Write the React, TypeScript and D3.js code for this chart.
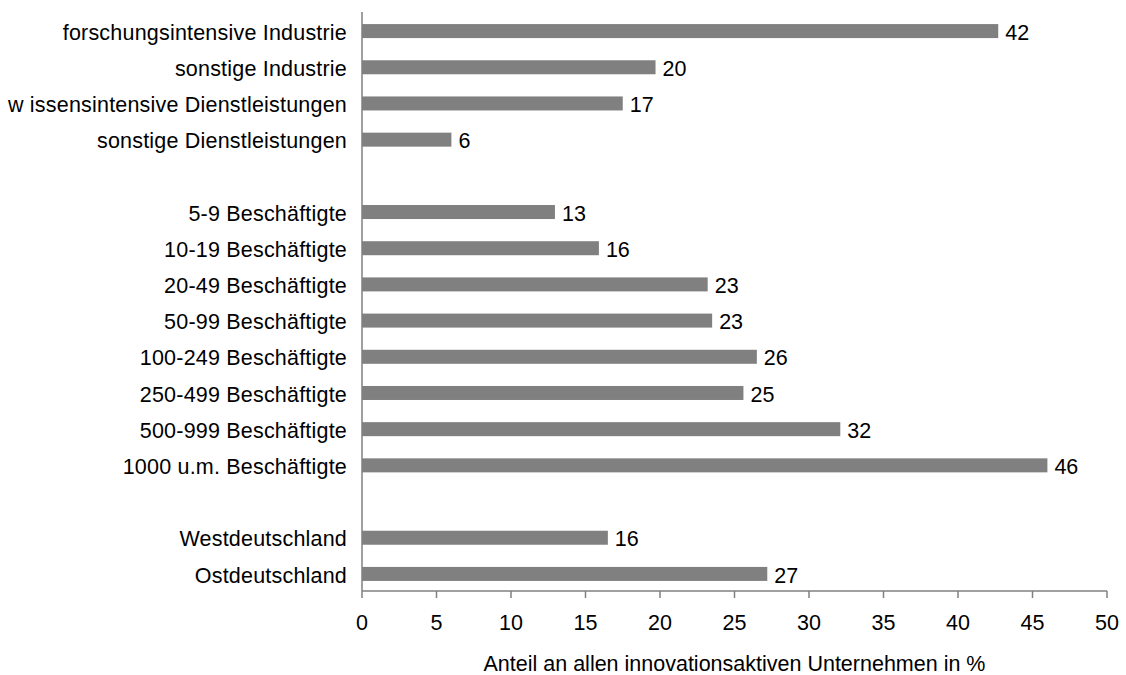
import React from "react";
import * as d3 from "d3";

const categories: string[] = [
  "forschungsintensive Industrie",
  "sonstige Industrie",
  "w issensintensive Dienstleistungen",
  "sonstige Dienstleistungen",
  "",
  "5-9 Beschäftigte",
  "10-19 Beschäftigte",
  "20-49 Beschäftigte",
  "50-99 Beschäftigte",
  "100-249 Beschäftigte",
  "250-499 Beschäftigte",
  "500-999 Beschäftigte",
  "1000 u.m. Beschäftigte",
  " ",
  "Westdeutschland",
  "Ostdeutschland",
];
const values: (number | null)[] = [42.7, 19.7, 17.5, 6.0, null, 12.95, 15.9, 23.2, 23.5, 26.5, 25.6, 32.1, 46.0, null, 16.5, 27.2];
const valueLabels: string[] = ["42", "20", "17", "6", "", "13", "16", "23", "23", "26", "25", "32", "46", "", "16", "27"];
const xTicks: number[] = [0, 5, 10, 15, 20, 25, 30, 35, 40, 45, 50];
const xTitle = "Anteil an allen innovationsaktiven Unternehmen in %";

const W = 1126, H = 675;
const left = 362, right = 1107, top = 12, bottom = 591;
const FONT = "Liberation Sans, Arial, sans-serif";
const FS = 21.5;

export default function App() {
  const x = d3.scaleLinear().domain([0, 50]).range([left, right]);
  const y = d3.scaleBand<number>().domain(categories.map((_, i) => i)).range([top, bottom]).paddingInner(0.613).paddingOuter(0.306);
  const step = y.step();
  const rowC = (i: number) => (y(i) as number) + y.bandwidth() / 2 + 1;
  const bh = y.bandwidth();
  return (
    <svg width={W} height={H} style={{ position: "absolute", left: 0, top: 0, background: "#fff" }} fontFamily={FONT}>
      {categories.map((c, i) => (
        <text key={"c" + i} x={left - 15} y={rowC(i)} dy="0.4em" textAnchor="end" fontSize={FS} letterSpacing={0.2} fill="#000">{c.trim()}</text>
      ))}
      {values.map((v, i) => v == null ? null : (
        <g key={"b" + i}>
          <rect x={x(0)} y={rowC(i) - bh / 2} width={x(v) - x(0)} height={bh} fill="#808080" />
          <text x={x(v) + 7} y={rowC(i)} dy="0.4em" fontSize={FS} fill="#000">{valueLabels[i]}</text>
        </g>
      ))}
      <line x1={left} x2={left} y1={top} y2={bottom} stroke="#808080" strokeWidth={1.5} />
      <line x1={left} x2={right} y1={bottom} y2={bottom} stroke="#808080" strokeWidth={1.5} />
      {xTicks.map((t) => (
        <g key={"t" + t}>
          <line x1={x(t)} x2={x(t)} y1={bottom} y2={bottom + 7} stroke="#808080" strokeWidth={1.5} />
          <text x={x(t)} y={630} textAnchor="middle" fontSize={FS} fill="#000">{t}</text>
        </g>
      ))}
      <text x={(x(0) + x(50)) / 2} y={671} textAnchor="middle" fontSize={FS} fill="#000">{xTitle}</text>
    </svg>
  );
}
